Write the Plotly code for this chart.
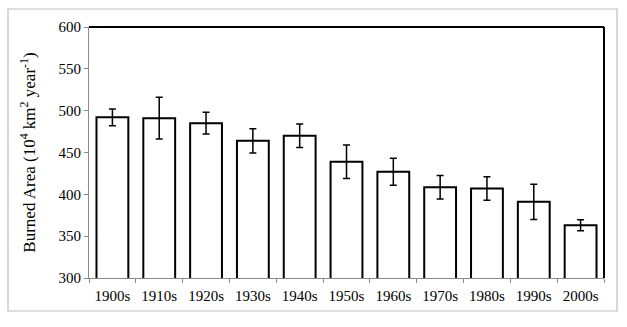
import plotly.graph_objects as go

decades = ["1900s", "1910s", "1920s", "1930s", "1940s", "1950s",
           "1960s", "1970s", "1980s", "1990s", "2000s"]
burned_area = [492, 491, 485, 464, 470, 439, 427, 408.5, 407, 391, 363]
error = [10, 25, 13, 14.5, 14, 20, 16, 14, 14, 21, 6.5]
y_ticks = [300, 350, 400, 450, 500, 550, 600]

W, H = 627, 327
L, R, T, B = 89, 23, 27, 49
pw, ph = W - L - R, H - T - B

fig = go.Figure()
fig.add_trace(go.Bar(
    x=decades, y=burned_area,
    marker=dict(color="white", line=dict(color="black", width=2)),
    error_y=dict(type="data", array=error, visible=True,
                 color="black", thickness=1.5, width=3.5),
    width=0.68,
))

# light gray outer frame
fx0 = (8 - L) / pw
fx1 = (617 - L) / pw
fy0 = (H - B - 311) / ph
fy1 = (H - B - 9) / ph
fig.add_shape(type="rect", xref="paper", yref="paper",
              x0=fx0, x1=fx1, y0=fy0, y1=fy1,
              line=dict(color="#bdbdbd", width=1.2), layer="below")
# black top and right borders
fig.add_shape(type="line", xref="paper", yref="paper",
              x0=0, x1=1, y0=1, y1=1, line=dict(color="black", width=2))
fig.add_shape(type="line", xref="paper", yref="paper",
              x0=1, x1=1, y0=0, y1=1, line=dict(color="black", width=2))

font = "Liberation Serif, Times New Roman, serif"
fig.update_layout(
    width=W, height=H,
    margin=dict(l=L, r=R, t=T, b=B),
    paper_bgcolor="white", plot_bgcolor="white",
    showlegend=False,
    font=dict(family=font, color="black", size=15),
    bargap=0.32,
    xaxis=dict(
        showline=True, linecolor="#8a8a8a", linewidth=1,
        ticks="outside", tickson="boundaries", ticklen=4,
        tickcolor="#8a8a8a", showgrid=False,
        ticklabelstandoff=4,
        tickfont=dict(family=font, size=15, color="black"),
    ),
    yaxis=dict(
        range=[300, 600], tickvals=y_ticks,
        showline=True, linecolor="#8a8a8a", linewidth=1,
        ticks="outside", ticklen=4, tickcolor="#8a8a8a",
        showgrid=False, zeroline=False,
        tickfont=dict(family=font, size=15, color="black"),
        title=dict(text="Burned Area (10<sup>4</sup> km<sup>2</sup> year<sup>-1</sup>)",
                   font=dict(family=font, size=17, color="black"),
                   standoff=18),
    ),
)

fig.write_html("out.html")
